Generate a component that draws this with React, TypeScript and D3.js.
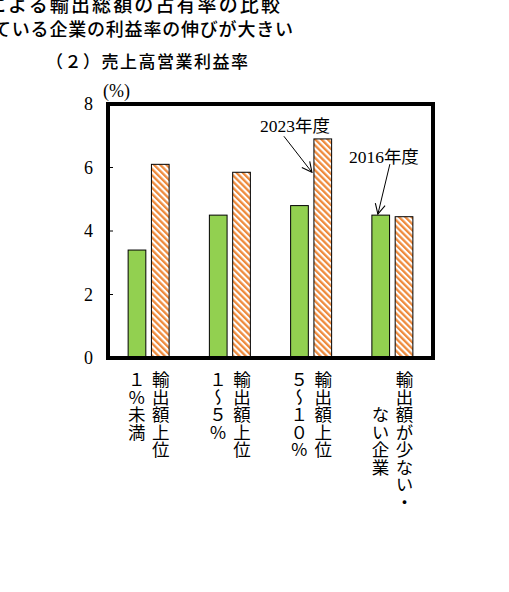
import React, { useEffect, useRef } from 'react'
import { select, scaleBand, scaleLinear, Selection } from 'd3'

// header lines (the first two are cut at the top/left of the image)
const headLines = ['による輸出総額の占有率の比較', 'ている企業の利益率の伸びが大きい']
const chartTitle = '（２）売上高営業利益率'
const unitLabel = '(%)'

// groups: each label is written vertically, right column first
const categories = ['top1', 'top1to5', 'top5to10', 'few']
const categoryLines = [
  ['輸出額上位', '１％未満'],
  ['輸出額上位', '１～５％'],
  ['輸出額上位', '５～１０％'],
  ['輸出額が少ない・', '　　ない企業'],
]
const series = ['2016年度', '2023年度']
const values2016 = [3.4, 4.5, 4.8, 4.5]
const values2023 = [6.1, 5.85, 6.9, 4.45]
const yTicks = [0, 2, 4, 6, 8]

const W = 509
const H = 592
const SANS = '"Noto Sans CJK JP", "Noto Sans", sans-serif'
const SERIF = '"Liberation Serif", "DejaVu Serif", "Noto Sans CJK JP", serif'

export default function App(): JSX.Element {
  const svgRef = useRef<SVGSVGElement | null>(null)

  function draw(svg: Selection<SVGSVGElement | null, any, null, undefined>): void {
    svg.selectAll('*').remove()

    const left = 108
    const right = 433
    const top = 104
    const bottom = 358

    const x = scaleBand<string>().domain(categories).range([left, right]).padding(0)
    const x1 = scaleBand<string>().domain(series).range([-20.5, 20.5]).paddingInner(0.24)
    const y = scaleLinear().domain([0, 8]).range([bottom, top])

    const defs = svg.append('defs')
    const pat = defs
      .append('pattern')
      .attr('id', 'hatch')
      .attr('patternUnits', 'userSpaceOnUse')
      .attr('width', 4.4)
      .attr('height', 4.4)
      .attr('patternTransform', 'rotate(-45)')
    pat.append('rect').attr('width', 4.4).attr('height', 4.4).attr('fill', '#ffffff')
    pat.append('rect').attr('width', 2.3).attr('height', 4.4).attr('fill', '#EE8A3C')

    defs
      .append('marker')
      .attr('id', 'arrow')
      .attr('viewBox', '0 0 12 12')
      .attr('refX', 11)
      .attr('refY', 6)
      .attr('markerWidth', 12)
      .attr('markerHeight', 12)
      .attr('markerUnits', 'userSpaceOnUse')
      .attr('orient', 'auto')
      .append('path')
      .attr('d', 'M1,1 L11,6 L1,11')
      .attr('fill', 'none')
      .attr('stroke', '#000')
      .attr('stroke-width', 1.1)

    // header text
    svg
      .append('text')
      .attr('x', -13)
      .attr('y', 12)
      .attr('textLength', 293)
      .attr('font-family', SANS)
      .attr('font-size', 19)
      .attr('font-weight', 500)
      .text(headLines[0])
    svg
      .append('text')
      .attr('x', -7)
      .attr('y', 36)
      .attr('textLength', 300)
      .attr('font-family', SANS)
      .attr('font-size', 18)
      .attr('font-weight', 500)
      .text(headLines[1])
    svg
      .append('text')
      .attr('x', 46)
      .attr('y', 68)
      .attr('textLength', 202)
      .attr('font-family', SANS)
      .attr('font-size', 17)
      .attr('font-weight', 500)
      .text(chartTitle)

    // unit
    svg
      .append('text')
      .attr('x', 103)
      .attr('y', 97)
      .attr('font-family', SERIF)
      .attr('font-size', 18)
      .text(unitLabel)

    // y ticks
    const gy = svg.append('g')
    yTicks.forEach((t) => {
      gy.append('text')
        .attr('x', 93)
        .attr('y', y(t))
        .attr('dy', '0.35em')
        .attr('text-anchor', 'end')
        .attr('font-family', SERIF)
        .attr('font-size', 18)
        .text(t)
      gy.append('line')
        .attr('x1', left)
        .attr('x2', left + 5)
        .attr('y1', y(t))
        .attr('y2', y(t))
        .attr('stroke', '#000')
        .attr('stroke-width', 1)
    })

    // bars
    const gb = svg.append('g')
    categories.forEach((c, i) => {
      const cx = (x(c) as number) + x.bandwidth() / 2
      const v16 = values2016[i]
      const v23 = values2023[i]
      gb.append('rect')
        .attr('x', cx + (x1(series[0]) as number))
        .attr('y', y(v16))
        .attr('width', x1.bandwidth())
        .attr('height', y(0) - y(v16))
        .attr('fill', '#92D050')
        .attr('stroke', '#000')
        .attr('stroke-width', 1)
      gb.append('rect')
        .attr('x', cx + (x1(series[1]) as number))
        .attr('y', y(v23))
        .attr('width', x1.bandwidth())
        .attr('height', y(0) - y(v23))
        .attr('fill', 'url(#hatch)')
        .attr('stroke', '#000')
        .attr('stroke-width', 1)
    })

    // frame
    svg
      .append('rect')
      .attr('x', left)
      .attr('y', top)
      .attr('width', right - left)
      .attr('height', bottom - top)
      .attr('fill', 'none')
      .attr('stroke', '#000')
      .attr('stroke-width', 4)

    // category labels, vertical
    const gl = svg.append('g')
    categories.forEach((c, i) => {
      const cx = (x(c) as number) + x.bandwidth() / 2
      categoryLines[i].forEach((line, j) => {
        gl.append('text')
          .attr('x', cx + 12 - j * 24)
          .attr('y', 371)
          .attr('font-family', SANS)
          .attr('font-size', 17.5)
          .style('writing-mode', 'vertical-rl')
          .text(line)
      })
    })

    // annotations
    const c3 = (x(categories[2]) as number) + x.bandwidth() / 2
    const c4 = (x(categories[3]) as number) + x.bandwidth() / 2
    const tip23x = c3 + (x1(series[1]) as number) - 2
    const tip23y = y(5.85)
    svg
      .append('line')
      .attr('x1', tip23x - 28)
      .attr('y1', tip23y - 36)
      .attr('x2', tip23x)
      .attr('y2', tip23y)
      .attr('stroke', '#000')
      .attr('stroke-width', 1)
      .attr('marker-end', 'url(#arrow)')
    svg
      .append('text')
      .attr('x', tip23x - 52)
      .attr('y', tip23y - 40)
      .attr('font-family', SERIF)
      .attr('font-size', 17.5)
      .text(series[1])

    const tip16x = c4 + (x1(series[0]) as number) + 6
    const tip16y = y(values2016[3]) - 1
    svg
      .append('line')
      .attr('x1', tip16x + 12)
      .attr('y1', tip16y - 50)
      .attr('x2', tip16x)
      .attr('y2', tip16y)
      .attr('stroke', '#000')
      .attr('stroke-width', 1)
      .attr('marker-end', 'url(#arrow)')
    svg
      .append('text')
      .attr('x', tip16x - 29)
      .attr('y', tip16y - 51)
      .attr('font-family', SERIF)
      .attr('font-size', 17.5)
      .text(series[0])
  }

  useEffect(() => {
    const svg: Selection<SVGSVGElement | null, any, null, undefined> = select(svgRef.current)
    draw(svg)
    // eslint-disable-next-line react-hooks/exhaustive-deps
  }, [])

  return (
    <svg
      ref={svgRef}
      width={W}
      height={H}
      style={{ position: 'absolute', left: 0, top: 0, background: '#fff' }}
      xmlns="http://www.w3.org/2000/svg"
    />
  )
}
